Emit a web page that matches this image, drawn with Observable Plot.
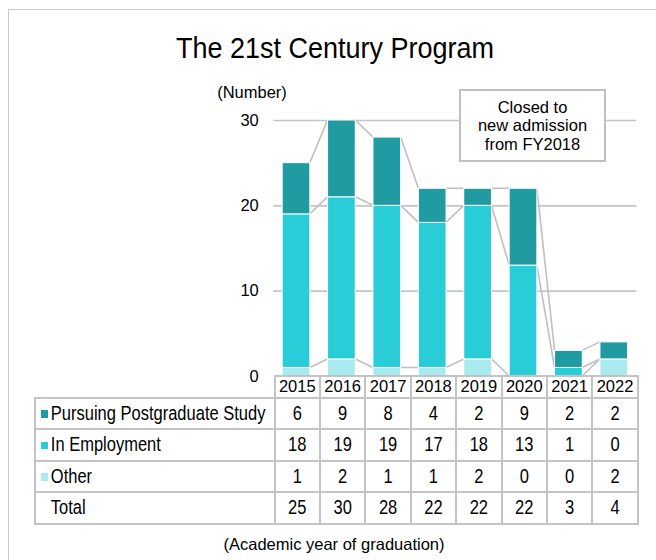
<!DOCTYPE html>
<html>
<head>
<meta charset="utf-8">
<script src="https://cdn.jsdelivr.net/npm/d3@7"></script>
<script src="https://cdn.jsdelivr.net/npm/@observablehq/plot@0.6"></script>
<style>
  html, body { margin: 0; padding: 0; background: #fff; overflow: hidden; }
  body { width: 656px; height: 560px; position: relative; font-family: "Liberation Sans", Arial, sans-serif; color: #000; }
  #frame { position: absolute; left: 8px; top: 9px; width: 720px; height: 620px; border: 1.5px solid #c8c8c8; }
  #title { position: absolute; left: 0; width: 670px; top: 32px; text-align: center; font-size: 27px; line-height: 32px; transform: scaleY(1.12); }
  #unit { position: absolute; left: 202px; width: 100px; top: 82px; text-align: center; font-size: 16.5px; line-height: 20px; }
  #chart { position: absolute; left: 0; top: 80px; }
  #note { position: absolute; left: 459px; top: 89px; width: 143px; height: 69px; border: 2px solid #c0c0c0; background: #fff;
          display: flex; align-items: center; justify-content: center; text-align: center; font-size: 16.5px; line-height: 18.3px; }
  #tbl { position: absolute; left: 34.3px; top: 375px; border-collapse: collapse; table-layout: fixed; font-size: 16.5px; }
  #tbl td { border: 2px solid #c4c4c4; padding: 0; text-align: center; white-space: nowrap; overflow: hidden; }
  #tbl td.lab { text-align: left; padding-left: 4.5px; }
  #tbl tr.hdr td { height: 19.5px; line-height: 19px; }
  #tbl tr.row td { height: 29.5px; line-height: 29px; font-size: 16.5px; }
  #tbl tr.row td span.t { display: inline-block; transform: scaleY(1.18); }
  #tbl td.blank { border-top: none; border-left: none; }
  .sw { display: inline-block; width: 7.5px; height: 7.5px; margin-right: 2.5px; vertical-align: 1px; }
  #caption { position: absolute; left: 184px; width: 300px; top: 534px; text-align: center; font-size: 16.5px; line-height: 20px; }
</style>
</head>
<body>
<div id="frame"></div>
<div id="title">The 21st Century Program</div>
<div id="unit">(Number)</div>
<div id="chart"></div>
<div id="note"><div>Closed to<br>new admission<br>from FY2018</div></div>
<div id="tblwrap"></div>
<div id="caption">(Academic year of graduation)</div>
<script>
const years = ["2015", "2016", "2017", "2018", "2019", "2020", "2021", "2022"];
const seriesNames = ["Pursuing Postgraduate Study", "In Employment", "Other"];
const postgrad = [6, 9, 8, 4, 2, 9, 2, 2];
const employment = [18, 19, 19, 17, 18, 13, 1, 0];
const other = [1, 2, 1, 1, 2, 0, 0, 2];
const totals = [25, 30, 28, 22, 22, 22, 3, 4];
const yTicks = [0, 10, 20, 30];
const colors = { "Pursuing Postgraduate Study": "#209ba1", "In Employment": "#29cdd7", "Other": "#a9eaee" };

// long-form data, bottom-to-top stacking order: Other, In Employment, Pursuing Postgraduate Study
const stackOrder = ["Other", "In Employment", "Pursuing Postgraduate Study"];
const valuesBy = { "Other": other, "In Employment": employment, "Pursuing Postgraduate Study": postgrad };
const data = [];
years.forEach((yr, i) => stackOrder.forEach(s => data.push({ year: yr, series: s, value: valuesBy[s][i] })));

// cumulative boundaries for the connecting lines
const layers = [
  other,
  other.map((v, i) => v + employment[i]),
  other.map((v, i) => v + employment[i] + postgrad[i])
];

function connectors(index, scales) {
  const x = scales.x, y = scales.y;
  const bw = x.bandwidth ? x.bandwidth() : 0;
  const g = d3.create("svg:g").attr("fill", "none").attr("stroke", "#c0c0c0").attr("stroke-width", 1.6);
  layers.forEach(layer => {
    for (let i = 0; i < years.length - 1; i++) {
      g.append("line")
        .attr("x1", x(years[i]) + bw).attr("y1", y(layer[i]))
        .attr("x2", x(years[i + 1])).attr("y2", y(layer[i + 1]));
    }
  });
  return g.node();
}

const chart = Plot.plot({
  width: 656,
  height: 320,
  marginTop: 40,
  marginBottom: 24,
  marginLeft: 273.3,
  marginRight: 19.5,
  style: { fontFamily: "'Liberation Sans', Arial, sans-serif", fontSize: "16.5px", color: "#000", background: "transparent" },
  x: { domain: years, type: "band", paddingInner: 0.39, paddingOuter: 0.195, round: false, axis: null },
  y: { domain: [0, 30], axis: null },
  color: { domain: seriesNames, range: seriesNames.map(s => colors[s]) },
  marks: [
    Plot.gridY(yTicks.filter(t => t > 0), { stroke: "#c4c4c4", strokeOpacity: 1, strokeWidth: 1.6 }),
    Plot.axisY(yTicks, { tickSize: 0, tickPadding: 15, fontSize: 16.5, fill: "#000", label: null }),
    connectors,
    Plot.barY(data, { x: "year", y: "value", fill: "series", stroke: "white", strokeWidth: 1 })
  ]
});
document.getElementById("chart").appendChild(chart);

// data table under the chart
const rows = [
  { label: "Pursuing Postgraduate Study", vals: postgrad, swatch: colors["Pursuing Postgraduate Study"] },
  { label: "In Employment", vals: employment, swatch: colors["In Employment"] },
  { label: "Other", vals: other, swatch: colors["Other"] },
  { label: "Total", vals: totals, swatch: null }
];
const tbl = d3.select("#tblwrap").append("table").attr("id", "tbl");
const cg = tbl.append("colgroup");
cg.append("col").style("width", "239.3px");
years.forEach(() => cg.append("col").style("width", "45.4px"));
const hdr = tbl.append("tr").attr("class", "hdr");
hdr.append("td").attr("class", "blank");
years.forEach(y => hdr.append("td").text(y));
rows.forEach(r => {
  const tr = tbl.append("tr").attr("class", "row");
  const lab = tr.append("td").attr("class", "lab");
  lab.append("span").attr("class", "sw").style("background", r.swatch || "transparent");
  lab.append("span").attr("class", "t").text(r.label);
  r.vals.forEach(v => tr.append("td").append("span").attr("class", "t").text(v));
});
</script>
</body>
</html>
